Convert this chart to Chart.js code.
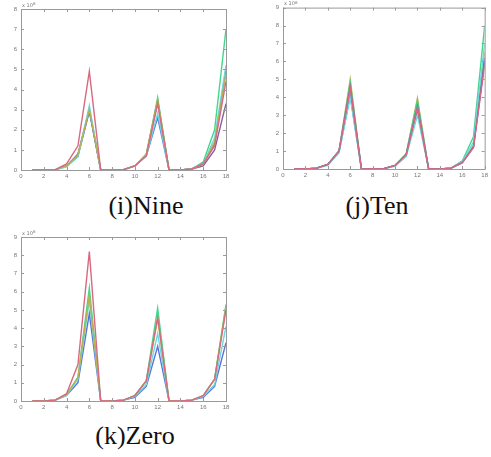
<!DOCTYPE html>
<html>
<head>
<meta charset="utf-8">
<script src="https://cdn.jsdelivr.net/npm/chart.js@4/dist/chart.umd.min.js"></script>
<style>
  body { margin: 0; background: #fff; width: 491px; height: 457px; position: relative; overflow: hidden; }
  .plot { position: absolute; }
  .cap { position: absolute; font-family: 'Liberation Serif', 'DejaVu Serif', 'Times New Roman', serif; font-size: 26px; color: #111; white-space: nowrap; transform: translateX(-50%); }
</style>
</head>
<body>
<div class="plot" style="left:0;top:0;width:240px;height:185px"><canvas id="nine"></canvas></div>
<div class="plot" style="left:262px;top:0;width:229px;height:185px"><canvas id="ten"></canvas></div>
<div class="plot" style="left:0;top:225px;width:240px;height:190px"><canvas id="zero"></canvas></div>
<div class="cap" style="left:146px;top:191px">(i)Nine</div>
<div class="cap" style="left:377px;top:191px">(j)Ten</div>
<div class="cap" style="left:135px;top:421px">(k)Zero</div>
<script>
// sample index along the x axis
var xs = [1, 2, 3, 4, 5, 6, 7, 8, 9, 10, 11, 12, 13, 14, 15, 16, 17, 18];

// (i) Nine
var nineRed    = [0, 0, 0.02, 0.3, 1.2, 4.9, 0, 0, 0.02, 0.2, 0.7, 3.3, 0, 0, 0.05, 0.3, 1.2, 4.4];
var nineGreen  = [0, 0, 0.01, 0.2, 0.7, 3.0, 0, 0, 0.02, 0.2, 0.75, 3.6, 0, 0, 0.05, 0.4, 2.0, 7.0];
var nineCyan   = [0, 0, 0.01, 0.15, 0.65, 3.2, 0, 0, 0.02, 0.2, 0.7, 2.8, 0, 0, 0.05, 0.3, 1.6, 5.2];
var nineBlue   = [0, 0, 0.01, 0.2, 0.7, 2.9, 0, 0, 0.02, 0.2, 0.7, 2.6, 0, 0, 0.05, 0.3, 1.3, 5.0];
var nineOlive  = [0, 0, 0.01, 0.2, 0.75, 3.0, 0, 0, 0.02, 0.2, 0.8, 3.5, 0, 0, 0.05, 0.3, 1.4, 4.8];
var ninePurple = [0, 0, 0.01, 0.2, 0.8, 3.0, 0, 0, 0.02, 0.2, 0.75, 3.4, 0, 0, 0.05, 0.2, 1.0, 3.3];

// (j) Ten
var tenOlive  = [0, 0, 0.05, 0.25, 1.0, 5.0, 0, 0, 0.02, 0.2, 0.85, 3.95, 0, 0, 0.05, 0.4, 1.3, 6.5];
var tenGreen  = [0, 0, 0.05, 0.25, 1.0, 4.8, 0, 0, 0.02, 0.2, 0.85, 3.8, 0, 0, 0.05, 0.45, 1.8, 8.0];
var tenCyan   = [0, 0, 0.04, 0.2, 0.9, 4.0, 0, 0, 0.02, 0.15, 0.7, 3.0, 0, 0, 0.05, 0.4, 1.5, 7.0];
var tenPurple = [0, 0, 0.05, 0.25, 1.0, 4.6, 0, 0, 0.02, 0.2, 0.8, 3.5, 0, 0, 0.05, 0.35, 1.2, 6.0];
var tenRed    = [0, 0, 0.05, 0.25, 1.0, 4.5, 0, 0, 0.02, 0.2, 0.8, 3.4, 0, 0, 0.05, 0.35, 1.2, 5.8];
var tenBlue   = [0, 0, 0.04, 0.25, 0.95, 4.1, 0, 0, 0.02, 0.2, 0.8, 3.3, 0, 0, 0.05, 0.35, 1.25, 6.2];

// (k) Zero
var zeroRed   = [0, 0, 0.05, 0.4, 2.0, 8.2, 0, 0, 0.05, 0.3, 1.1, 4.6, 0, 0, 0.05, 0.3, 1.2, 5.0];
var zeroGreen = [0, 0, 0.05, 0.35, 1.3, 6.2, 0, 0, 0.05, 0.3, 1.1, 5.1, 0, 0, 0.05, 0.3, 1.2, 5.3];
var zeroCyan  = [0, 0, 0.05, 0.3, 1.2, 5.5, 0, 0, 0.05, 0.25, 0.9, 3.7, 0, 0, 0.05, 0.25, 0.9, 4.1];
var zeroBlue  = [0, 0, 0.05, 0.3, 1.0, 4.8, 0, 0, 0.05, 0.2, 0.8, 3.0, 0, 0, 0.05, 0.2, 0.8, 3.2];
var zeroOlive = [0, 0, 0.05, 0.35, 1.3, 5.8, 0, 0, 0.05, 0.3, 1.1, 4.5, 0, 0, 0.05, 0.3, 1.2, 5.2];

var colors = {
  red: '#d76a80', green: '#44d68c', cyan: '#6ad8e2',
  blue: '#5874dc', olive: '#b9b24e', purple: '#86609c'
};

function series(values, color) {
  return {
    data: values.map(function (v, i) { return { x: xs[i], y: v }; }),
    borderColor: color,
    borderWidth: 1.4,
    pointRadius: 0,
    tension: 0,
    fill: false
  };
}

// matlab style box with inward ticks on every side, plus the exponent label
var boxPlugin = {
  id: 'box',
  afterDatasetsDraw: function (chart) {
    var a = chart.chartArea;
    var c = chart.ctx;
    var sx = chart.scales.x, sy = chart.scales.y;
    c.save();
    c.strokeStyle = '#9a9a9a';
    c.lineWidth = 1;
    c.strokeRect(a.left + 0.5, a.top + 0.5, a.right - a.left, a.bottom - a.top);
    c.beginPath();
    sx.ticks.forEach(function (t) {
      var px = Math.round(sx.getPixelForValue(t.value)) + 0.5;
      c.moveTo(px, a.bottom); c.lineTo(px, a.bottom - 3);
      c.moveTo(px, a.top); c.lineTo(px, a.top + 3);
    });
    sy.ticks.forEach(function (t) {
      var py = Math.round(sy.getPixelForValue(t.value)) + 0.5;
      c.moveTo(a.left, py); c.lineTo(a.left + 3, py);
      c.moveTo(a.right, py); c.lineTo(a.right - 3, py);
    });
    c.stroke();
    c.fillStyle = '#777';
    c.font = '5px "DejaVu Sans", sans-serif';
    c.textBaseline = 'bottom';
    c.fillText('x 10', a.left + 1, a.top - 1);
    c.font = '4px "DejaVu Sans", sans-serif';
    c.fillText('6', a.left + 12, a.top - 3);
    c.restore();
  }
};

function makePlot(id, datasets, yMax, pad) {
  new Chart(document.getElementById(id), {
    type: 'line',
    data: { datasets: datasets },
    plugins: [boxPlugin],
    options: {
      responsive: true,
      maintainAspectRatio: false,
      animation: false,
      layout: { padding: pad },
      plugins: { legend: { display: false }, tooltip: { enabled: false } },
      scales: {
        x: {
          type: 'linear', min: 0, max: 18,
          afterFit: function (s) { s.height = 12; },
          grid: { display: false, drawTicks: false, tickLength: 0 },
          border: { display: false },
          ticks: { color: '#777', font: { size: 6 }, padding: 3, stepSize: 2, maxRotation: 0, autoSkip: false }
        },
        y: {
          min: 0, max: yMax,
          afterFit: function (s) { s.width = 21; },
          grid: { display: false, drawTicks: false, tickLength: 0 },
          border: { display: false },
          ticks: { color: '#777', font: { size: 6 }, padding: 4, stepSize: 1 }
        }
      }
    }
  });
}

makePlot('nine', [
  series(nineRed, colors.red), series(nineOlive, colors.olive),
  series(nineCyan, colors.cyan), series(nineBlue, colors.blue),
  series(ninePurple, colors.purple), series(nineGreen, colors.green)
], 8, { left: 0, right: 14, top: 9, bottom: 3 });

makePlot('ten', [
  series(tenRed, colors.red), series(tenPurple, colors.purple),
  series(tenCyan, colors.cyan), series(tenBlue, colors.blue),
  series(tenGreen, colors.green), series(tenOlive, colors.olive)
], 9, { left: 0, right: 2, top: 7, bottom: 4 });

makePlot('zero', [
  series(zeroRed, colors.red), series(zeroOlive, colors.olive),
  series(zeroCyan, colors.cyan), series(zeroBlue, colors.blue),
  series(zeroGreen, colors.green)
], 9, { left: 0, right: 14, top: 12, bottom: 2 });
</script>
</body>
</html>
